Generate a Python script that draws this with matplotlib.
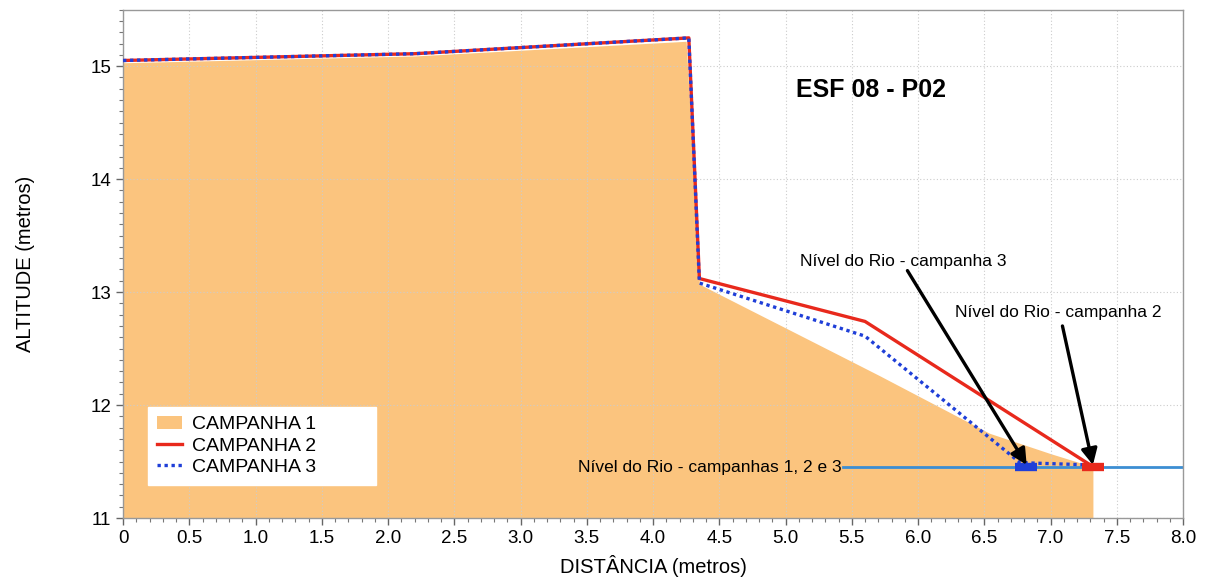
import matplotlib
matplotlib.use("Agg")
import matplotlib.pyplot as plt
from matplotlib.ticker import MultipleLocator, FuncFormatter
from matplotlib.patches import Patch
from matplotlib.lines import Line2D

plt.rcParams['font.family'] = ['Liberation Sans', 'DejaVu Sans']

# Terrain profiles (distance in m, altitude in m)
dist_c1 = [0.0, 2.2, 4.25, 4.35, 5.71, 6.54, 7.0, 7.22, 7.32]
alt_c1 = [15.03, 15.09, 15.22, 13.07, 12.26, 11.75, 11.57, 11.49, 11.47]

dist_c2 = [0.0, 2.2, 4.27, 4.35, 5.6, 7.30]
alt_c2 = [15.05, 15.11, 15.25, 13.12, 12.74, 11.47]

dist_c3 = [0.0, 2.2, 4.27, 4.35, 5.6, 6.77, 7.30]
alt_c3 = [15.05, 15.11, 15.25, 13.08, 12.61, 11.49, 11.47]

# River level
river_x = [5.43, 8.0]
river_level = 11.45
river_c3 = (6.73, 6.90)
river_c2 = (7.24, 7.40)

xticks = [0, 0.5, 1.0, 1.5, 2.0, 2.5, 3.0, 3.5, 4.0, 4.5, 5.0, 5.5, 6.0, 6.5, 7.0, 7.5, 8.0]
yticks = [11, 12, 13, 14, 15]

fill_color = '#FBC47E'
red = '#E8291C'
blue = '#1F3FD8'
river_color = '#3C8ED3'

fig = plt.figure(figsize=(12.1, 5.85), dpi=100)
ax = fig.add_axes([0.1017, 0.1145, 0.876, 0.869])

ax.fill_between(dist_c1 + [dist_c1[-1]], alt_c1 + [11.0], 11.0, color=fill_color, lw=0, zorder=1)

ax.plot(river_x, [river_level, river_level], color=river_color, lw=2, zorder=2)
ax.plot(dist_c2, alt_c2, color=red, lw=2.4, zorder=3)
ax.plot(dist_c3, alt_c3, color=blue, lw=2.4, ls=(0, (1, 1.1)), zorder=4)
ax.plot(river_c3, [river_level, river_level], color=blue, lw=6, solid_capstyle='butt', zorder=5)
ax.plot(river_c2, [river_level, river_level], color=red, lw=6, solid_capstyle='butt', zorder=5)

ax.set_xlim(0, 8)
ax.set_ylim(11, 15.5)
ax.set_xticks(xticks)
ax.set_yticks(yticks)
ax.xaxis.set_minor_locator(MultipleLocator(0.1))
ax.yaxis.set_minor_locator(MultipleLocator(0.1))
ax.xaxis.set_major_formatter(FuncFormatter(lambda v, p: '0' if v == 0 else f'{v:.1f}'))
ax.tick_params(axis='both', which='major', direction='out', length=5, width=1, color='#666666',
               labelsize=13.5)
ax.tick_params(axis='both', which='minor', direction='out', length=3, width=0.8, color='#777777')
for s in ax.spines.values():
    s.set_color('#999999')
    s.set_linewidth(1)

ax.grid(True, which='major', color='#cccccc', ls=(0, (1, 2)), lw=0.8, zorder=0)

ax.set_xlabel('DISTÂNCIA (metros)', fontsize=14.5, labelpad=6)
ax.set_ylabel('ALTITUDE (metros)', fontsize=14.5, labelpad=40)

ax.text(5.645, 14.79, 'ESF 08 - P02', fontsize=18, fontweight='bold', ha='center', va='center')

ax.text(5.42, river_level, 'Nível do Rio - campanhas 1, 2 e 3', fontsize=12.5, ha='right', va='center')

ax.text(5.11, 13.27, 'Nível do Rio - campanha 3', fontsize=12.5, ha='left', va='center')
ax.text(6.28, 12.82, 'Nível do Rio - campanha 2', fontsize=12.5, ha='left', va='center')

arrow_style = dict(arrowstyle='-|>', color='black', lw=2.4, mutation_scale=24, shrinkA=0, shrinkB=0)
ax.annotate('', xy=(6.82, 11.47), xytext=(5.92, 13.19), arrowprops=arrow_style, zorder=6)
ax.annotate('', xy=(7.32, 11.47), xytext=(7.09, 12.70), arrowprops=arrow_style, zorder=6)

handles = [Patch(facecolor=fill_color, edgecolor='none'),
           Line2D([], [], color=red, lw=2.4),
           Line2D([], [], color=blue, lw=2.4, ls=(0, (1, 1.1)))]
leg = ax.legend(handles, ['CAMPANHA 1', 'CAMPANHA 2', 'CAMPANHA 3'], loc='lower left',
                bbox_to_anchor=(0.0236, 0.065, 0.215, 0.16), mode='expand',
                fontsize=14, frameon=True, fancybox=False,
                framealpha=1, edgecolor='white', handlelength=1.3, handletextpad=0.5,
                labelspacing=0.2, borderpad=0.45, borderaxespad=0)

fig.savefig('out.png', dpi=100)
